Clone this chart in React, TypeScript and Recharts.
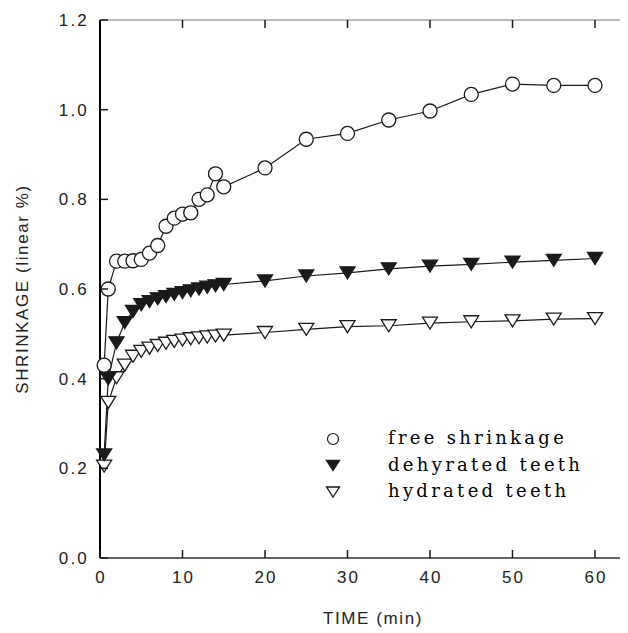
import { LineChart, Line, XAxis, YAxis } from "recharts";

// minutes
const TIME = [0.5, 1, 2, 3, 4, 5, 6, 7, 8, 9, 10, 11, 12, 13, 14, 15, 20, 25, 30, 35, 40, 45, 50, 55, 60];

// shrinkage, linear %
const FREE_SHRINKAGE = [
  0.43, 0.6, 0.662, 0.662, 0.663, 0.666, 0.68, 0.697, 0.74, 0.758, 0.767, 0.77, 0.8,
  0.81, 0.857, 0.828, 0.87, 0.934, 0.947, 0.977, 0.997, 1.034, 1.057, 1.054, 1.054,
];
const DEHYDRATED_TEETH = [
  0.23, 0.4, 0.48, 0.525, 0.55, 0.565, 0.572, 0.578, 0.583, 0.588, 0.592, 0.596, 0.6,
  0.604, 0.607, 0.61, 0.618, 0.629, 0.636, 0.645, 0.651, 0.655, 0.66, 0.664, 0.668,
];
const HYDRATED_TEETH = [
  0.205, 0.347, 0.402, 0.43, 0.45, 0.461, 0.468, 0.474, 0.479, 0.483, 0.486, 0.489, 0.491,
  0.493, 0.495, 0.497, 0.503, 0.51, 0.516, 0.518, 0.524, 0.527, 0.529, 0.533, 0.534,
];

const X_TICKS = [0, 10, 20, 30, 40, 50, 60];
const Y_TICKS = [0, 0.2, 0.4, 0.6, 0.8, 1.0, 1.2];

const LEGEND = [
  { name: "free shrinkage", shape: "circle" },
  { name: "dehyrated teeth", shape: "filled" },
  { name: "hydrated teeth", shape: "open" },
];

const rows = TIME.map((t, i) => ({
  time: t,
  free: FREE_SHRINKAGE[i],
  dehydrated: DEHYDRATED_TEETH[i],
  hydrated: HYDRATED_TEETH[i],
}));

const SANS = "'Liberation Sans', Arial, sans-serif";
const INK = "#1a1a1a";

function Triangle({ cx, cy, filled, w = 15, h = 12 }: any) {
  if (cx == null || cy == null) return null;
  const pts = `${cx - w / 2},${cy - h / 2} ${cx + w / 2},${cy - h / 2} ${cx},${cy + h / 2}`;
  return (
    <polygon
      points={pts}
      fill={filled ? INK : "#fff"}
      stroke={INK}
      strokeWidth={1.3}
      strokeLinejoin="miter"
    />
  );
}

function BottomTick({ x, y, payload }: any) {
  return (
    <g>
      <line x1={x} x2={x} y1={y} y2={y - 8} stroke={INK} strokeWidth={1.5} />
      <text
        x={x + 1}
        y={y + 25}
        textAnchor="middle"
        fontSize={17}
        fontFamily={SANS}
        letterSpacing={2}
        fill="#222"
      >
        {payload.value}
      </text>
    </g>
  );
}

function TopTick({ x, y }: any) {
  return <line x1={x} x2={x} y1={y} y2={y + 8} stroke={INK} strokeWidth={1.5} />;
}

function LeftTick({ x, y, payload }: any) {
  return (
    <g>
      <line x1={x} x2={x + 8} y1={y} y2={y} stroke={INK} strokeWidth={1.5} />
      <text
        x={x - 11}
        y={y + 6}
        textAnchor="end"
        fontSize={17}
        fontFamily={SANS}
        letterSpacing={2.2}
        fill="#222"
      >
        {payload.value.toFixed(1)}
      </text>
    </g>
  );
}

function RightTick({ x, y }: any) {
  return <line x1={x} x2={x - 8} y1={y} y2={y} stroke={INK} strokeWidth={1.5} />;
}

function LegendBox() {
  return (
    <svg width={300} height={90} style={{ position: "absolute", left: 310, top: 418 }}>
      {LEGEND.map((d, i) => {
        const cy = 13 + i * 26.5;
        return (
          <g key={d.name}>
            {d.shape === "circle" ? (
              <circle cx={15} cy={cy} r={5.5} fill="#fff" stroke={INK} strokeWidth={1.2} />
            ) : (
              <Triangle cx={15} cy={cy} filled={d.shape === "filled"} w={13} h={10} />
            )}
            <text
              x={70}
              y={cy + 5}
              fontSize={18}
              fontFamily="'DejaVu Serif', 'Liberation Serif', serif"
              letterSpacing={3.3}
              fill="#000"
            >
              {d.name}
            </text>
          </g>
        );
      })}
    </svg>
  );
}

export default function App() {
  return (
    <div style={{ position: "relative", width: 620, height: 625 }}>
      <LineChart
        width={620}
        height={625}
        data={rows}
        margin={{ top: 0, right: 0, bottom: 0, left: 0 }}
      >
        <XAxis
          dataKey="time"
          type="number"
          domain={[0, 64]}
          ticks={X_TICKS}
          interval={0}
          height={75}
          tickSize={0}
          tickMargin={0}
          tickLine={false}
          tick={<BottomTick />}
          axisLine={{ stroke: "#333", strokeWidth: 1.5 }}
          label={({ viewBox }: any) => (
            <text
              x={viewBox.x + viewBox.width / 2 + 9}
              y={viewBox.y + 66}
              textAnchor="middle"
              fontSize={17}
              fontFamily={SANS}
              letterSpacing={1.6}
              fill="#222"
            >
              TIME (min)
            </text>
          )}
        />
        <XAxis
          xAxisId="top"
          orientation="top"
          dataKey="time"
          type="number"
          domain={[0, 64]}
          ticks={X_TICKS.slice(1)}
          interval={0}
          height={12}
          tickSize={0}
          tickMargin={0}
          tickLine={false}
          tick={<TopTick />}
          axisLine={{ stroke: "#777", strokeWidth: 1 }}
        />
        <YAxis
          type="number"
          domain={[0, 1.2]}
          ticks={Y_TICKS}
          interval={0}
          width={92}
          tickSize={0}
          tickMargin={0}
          tickLine={false}
          tick={<LeftTick />}
          axisLine={{ stroke: "#000", strokeWidth: 2 }}
          label={({ viewBox }: any) => {
            const cx = 14;
            const cy = viewBox.y + viewBox.height / 2;
            return (
              <text
                x={cx}
                y={cy}
                transform={`rotate(-90 ${cx} ${cy})`}
                textAnchor="middle"
                dominantBaseline="central"
                fontSize={17}
                fontFamily={SANS}
                letterSpacing={1.6}
                fill="#222"
              >
                SHRINKAGE (linear %)
              </text>
            );
          }}
        />
        <YAxis
          yAxisId="right"
          orientation="right"
          type="number"
          domain={[0, 1.2]}
          ticks={Y_TICKS.slice(1, 6)}
          interval={0}
          width={0}
          tickSize={0}
          tickMargin={0}
          tickLine={false}
          axisLine={false}
          tick={<RightTick />}
        />
        <Line
          dataKey="hydrated"
          stroke={INK}
          strokeWidth={1.2}
          isAnimationActive={false}
          dot={(p: any) => <Triangle key={`h${p.index}`} cx={p.cx} cy={p.cy} filled={false} />}
        />
        <Line
          dataKey="dehydrated"
          stroke={INK}
          strokeWidth={1.2}
          isAnimationActive={false}
          dot={(p: any) => <Triangle key={`d${p.index}`} cx={p.cx} cy={p.cy} filled />}
        />
        <Line
          dataKey="free"
          stroke={INK}
          strokeWidth={1.2}
          isAnimationActive={false}
          dot={{ r: 7, fill: "#fff", stroke: INK, strokeWidth: 1.3 }}
        />
      </LineChart>
      <LegendBox />
    </div>
  );
}
